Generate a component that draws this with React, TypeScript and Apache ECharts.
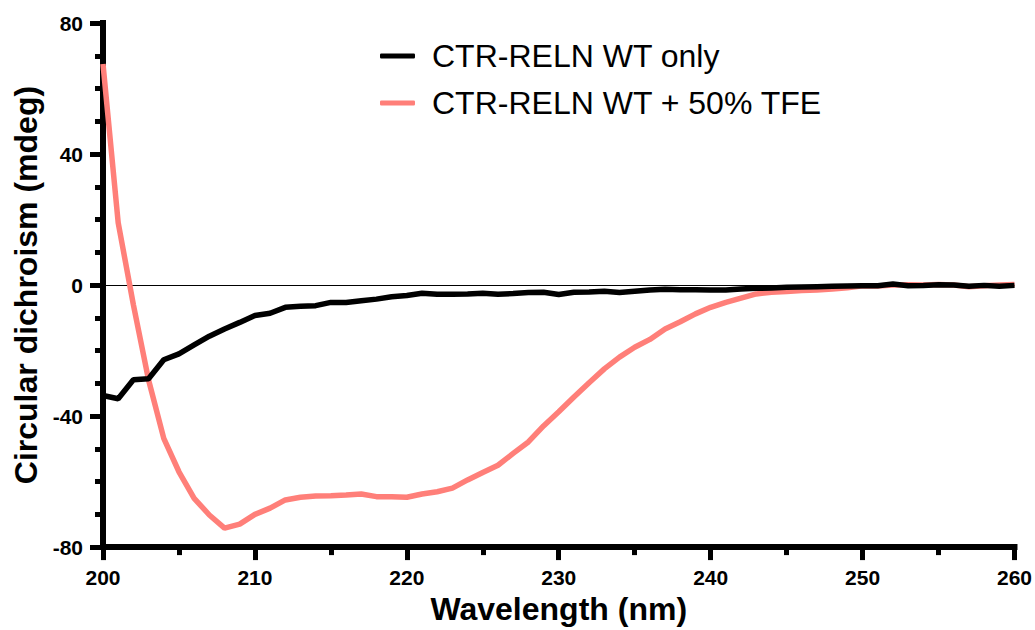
import React, { useEffect, useRef } from "react";
import * as echarts from "echarts";

const wavelengths: number[] = [
  200, 201, 202, 203, 204, 205, 206, 207, 208, 209,
  210, 211, 212, 213, 214, 215, 216, 217, 218, 219,
  220, 221, 222, 223, 224, 225, 226, 227, 228, 229,
  230, 231, 232, 233, 234, 235, 236, 237, 238, 239,
  240, 241, 242, 243, 244, 245, 246, 247, 248, 249,
  250, 251, 252, 253, 254, 255, 256, 257, 258, 259, 260,
];

const wtOnly: number[] = [
  -33.7, -34.7, -28.9, -28.6, -22.8, -21, -18.3, -15.6, -13.4, -11.4,
  -9.3, -8.6, -6.8, -6.5, -6.3, -5.3, -5.3, -4.8, -4.3, -3.6,
  -3.2, -2.5, -2.8, -2.8, -2.7, -2.5, -2.8, -2.6, -2.3, -2.2,
  -2.9, -2.2, -2.1, -1.9, -2.3, -1.9, -1.5, -1.3, -1.4, -1.4,
  -1.5, -1.5, -1.2, -1.0, -0.9, -0.7, -0.6, -0.5, -0.4, -0.3,
  -0.2, -0.2, 0.3, -0.2, -0.1, 0.1, 0, -0.4, -0.1, -0.4, -0.1,
];

const wtTfe: number[] = [
  67.5, 19, -6, -29, -46.8, -57, -65.1, -70.2, -74.2, -73,
  -70, -68.1, -65.6, -64.8, -64.4, -64.3, -64.1, -63.8, -64.6, -64.6,
  -64.8, -63.8, -63.1, -62, -59.5, -57.2, -55, -51.4, -47.9, -43,
  -38.7, -34.2, -29.8, -25.6, -22, -19, -16.6, -13.4, -11.2, -8.8,
  -6.8, -5.3, -4, -2.7, -2.2, -2, -1.7, -1.5, -1.2, -0.8,
  -0.2, -0.3, 0, 0.1, 0, 0.2, 0, -0.5, -0.2, 0, 0.2,
];

const seriesNames: string[] = ["CTR-RELN WT only", "CTR-RELN WT + 50% TFE"];
const seriesColors: string[] = ["#000000", "#ff7f79"];
const xTitle = "Wavelength (nm)";
const yTitle = "Circular dichroism (mdeg)";

const FONT = "'Liberation Sans', Arial, Helvetica, sans-serif";

export default function App() {
  const ref = useRef<HTMLDivElement>(null);

  useEffect(() => {
    document.body.style.margin = "0";
    if (!ref.current) return;
    const chart = echarts.init(ref.current, undefined, { renderer: "svg" });

    const pairs = (ys: number[]) => wavelengths.map((x, i) => [x, ys[i]]);

    const labelStyle = {
      color: "#000",
      fontFamily: FONT,
      fontWeight: "bold" as const,
      fontSize: 21,
      margin: 20,
    };
    const nameStyle = {
      color: "#000",
      fontFamily: FONT,
      fontWeight: "bold" as const,
      fontSize: 32,
    };
    const AXIS_W = 6;
    const TICK_W = 5;

    chart.setOption({
      animation: false,
      backgroundColor: "#fff",
      grid: { left: 103, right: 20, top: 23, bottom: 81, containLabel: false },
      legend: {
        data: seriesNames,
        orient: "vertical",
        left: 380,
        top: 40,
        padding: 0,
        itemWidth: 35,
        itemHeight: 5,
        itemGap: 15,
        icon: "roundRect",
        textStyle: {
          color: "#000",
          fontFamily: FONT,
          fontSize: 32,
          padding: [0, 0, 0, 12],
        },
      },
      xAxis: {
        type: "value",
        min: 200,
        max: 260,
        interval: 10,
        axisLine: { show: true, onZero: false, lineStyle: { color: "#000", width: AXIS_W, cap: "square" } },
        axisTick: { show: true, length: 13, lineStyle: { color: "#000", width: TICK_W } },
        minorTick: { show: true, splitNumber: 2, length: 8, lineStyle: { color: "#000", width: TICK_W } },
        splitLine: { show: false },
        axisLabel: labelStyle,
        name: xTitle,
        nameLocation: "middle",
        nameGap: 38,
        nameTextStyle: nameStyle,
      },
      yAxis: {
        type: "value",
        min: -80,
        max: 80,
        interval: 40,
        axisLine: { show: true, onZero: false, lineStyle: { color: "#000", width: AXIS_W, cap: "square" } },
        axisTick: { show: true, length: 13, lineStyle: { color: "#000", width: TICK_W } },
        minorTick: { show: true, splitNumber: 4, length: 8, lineStyle: { color: "#000", width: TICK_W } },
        splitLine: { show: false },
        axisLabel: labelStyle,
        name: yTitle,
        nameLocation: "middle",
        nameGap: 56,
        nameTextStyle: nameStyle,
      },
      series: [
        {
          name: seriesNames[1],
          type: "line",
          data: pairs(wtTfe),
          showSymbol: false,
          symbol: "none",
          lineStyle: { color: seriesColors[1], width: 5.5 },
          itemStyle: { color: seriesColors[1] },
          z: 2,
          markLine: {
            silent: true,
            symbol: ["none", "none"],
            label: { show: false },
            lineStyle: { color: "#000", width: 1, type: "solid" },
            data: [{ yAxis: 0 }],
            z: 1,
          },
        },
        {
          name: seriesNames[0],
          type: "line",
          data: pairs(wtOnly),
          showSymbol: false,
          symbol: "none",
          lineStyle: { color: seriesColors[0], width: 5.5 },
          itemStyle: { color: seriesColors[0] },
          z: 3,
        },
      ],
    });

    return () => chart.dispose();
  }, []);

  return <div ref={ref} style={{ width: 1035, height: 630 }} />;
}
